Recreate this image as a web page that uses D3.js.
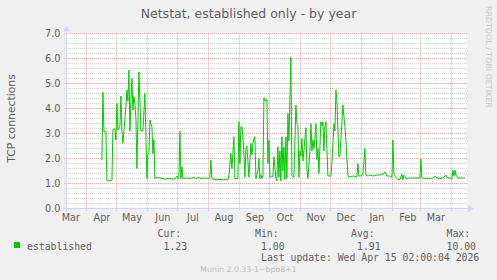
<!DOCTYPE html>
<html>
<head>
<meta charset="utf-8">
<script src="https://cdn.jsdelivr.net/npm/d3@7"></script>
<style>
  body { margin: 0; background: #F0F0F0; }
  svg { display: block; }
</style>
</head>
<body>
<svg id="chart" width="497" height="280"></svg>
<script>
var title = "Netstat, established only - by year";
var yTitle = "TCP connections";
var seriesName = "established";

var days = [
  "2025-04-16","2025-04-17","2025-04-18","2025-04-20","2025-04-21","2025-04-26","2025-04-27","2025-04-29","2025-04-30",
  "2025-05-01","2025-05-02","2025-05-04","2025-05-05","2025-05-06","2025-05-07","2025-05-10","2025-05-11","2025-05-12",
  "2025-05-13","2025-05-14","2025-05-15","2025-05-16","2025-05-17","2025-05-18","2025-05-19","2025-05-20","2025-05-21",
  "2025-05-23","2025-05-25","2025-05-27","2025-05-29","2025-05-31",
  "2025-06-01","2025-06-02","2025-06-03","2025-06-05","2025-06-06","2025-06-07","2025-06-08","2025-06-10","2025-06-14",
  "2025-06-18","2025-06-22","2025-06-26","2025-06-28","2025-06-29","2025-06-30",
  "2025-07-01","2025-07-02","2025-07-03","2025-07-04","2025-07-05","2025-07-06","2025-07-10","2025-07-14","2025-07-17",
  "2025-07-19","2025-07-22","2025-07-24","2025-07-28",
  "2025-08-01","2025-08-02","2025-08-03","2025-08-04","2025-08-08","2025-08-12","2025-08-16","2025-08-20","2025-08-21",
  "2025-08-22","2025-08-23","2025-08-24","2025-08-25","2025-08-26","2025-08-27","2025-08-30","2025-08-31",
  "2025-09-01","2025-09-02","2025-09-03","2025-09-04","2025-09-05","2025-09-06","2025-09-07","2025-09-08","2025-09-10",
  "2025-09-12","2025-09-13","2025-09-14","2025-09-15","2025-09-16","2025-09-17","2025-09-19","2025-09-20","2025-09-21",
  "2025-09-22","2025-09-23","2025-09-24","2025-09-25","2025-09-26","2025-09-27","2025-09-28","2025-09-29","2025-09-30",
  "2025-10-01","2025-10-04","2025-10-05","2025-10-07","2025-10-08","2025-10-09","2025-10-10","2025-10-11","2025-10-12",
  "2025-10-13","2025-10-14","2025-10-15","2025-10-16","2025-10-17","2025-10-18","2025-10-19","2025-10-20","2025-10-22",
  "2025-10-23","2025-10-25","2025-10-27","2025-10-28","2025-10-29","2025-10-30","2025-10-31",
  "2025-11-01","2025-11-02","2025-11-03","2025-11-04","2025-11-06","2025-11-07","2025-11-08","2025-11-10","2025-11-11",
  "2025-11-12","2025-11-13","2025-11-14","2025-11-15","2025-11-16","2025-11-17","2025-11-18","2025-11-19","2025-11-21",
  "2025-11-22","2025-11-23","2025-11-24","2025-11-25","2025-11-26","2025-11-27","2025-11-28",
  "2025-12-01","2025-12-02","2025-12-04","2025-12-05","2025-12-06","2025-12-07","2025-12-09","2025-12-10","2025-12-13",
  "2025-12-14","2025-12-15","2025-12-16","2025-12-18","2025-12-20","2025-12-23","2025-12-27","2025-12-28","2025-12-29",
  "2025-12-31",
  "2026-01-01","2026-01-02","2026-01-04","2026-01-05","2026-01-07","2026-01-09","2026-01-12","2026-01-16","2026-01-19",
  "2026-01-22","2026-01-24","2026-01-26","2026-01-29","2026-01-31",
  "2026-02-01","2026-02-02","2026-02-05","2026-02-06","2026-02-08","2026-02-10","2026-02-11","2026-02-12","2026-02-13",
  "2026-02-15","2026-02-18","2026-02-21","2026-02-25","2026-02-28",
  "2026-03-01","2026-03-02","2026-03-07","2026-03-10","2026-03-13","2026-03-15","2026-03-17","2026-03-20","2026-03-23",
  "2026-03-26","2026-03-27","2026-03-30",
  "2026-04-01","2026-04-02","2026-04-03","2026-04-04","2026-04-05","2026-04-07","2026-04-10","2026-04-14"
];

var established = [
  1.94,4.65,3.07,3.07,1.11,1.11,3.14,3.20,2.74,
  4.20,3.14,3.30,4.50,3.10,2.60,4.07,4.74,4.30,
  5.54,3.10,4.30,5.20,3.94,4.47,4.20,3.60,1.60,
  5.47,3.10,3.10,4.60,1.20,
  2.20,2.20,3.54,3.27,2.20,2.75,1.20,1.24,1.22,
  1.18,1.20,1.17,1.20,1.25,1.30,
  1.20,1.22,3.10,1.20,1.67,1.20,1.22,1.20,1.25,
  1.20,1.25,1.20,1.22,
  1.20,1.25,1.94,1.20,1.15,1.16,1.15,1.15,1.30,
  1.80,2.20,1.60,2.20,2.87,1.20,1.20,3.47,
  1.80,3.27,3.27,2.87,2.20,1.25,2.40,2.50,1.25,
  2.60,2.14,2.60,2.80,2.87,1.20,1.50,2.00,1.20,
  1.35,1.20,1.30,4.43,4.30,4.30,4.37,1.80,2.74,
  1.25,1.28,2.07,1.20,1.10,2.47,1.25,2.30,1.10,
  2.87,1.50,2.47,1.15,2.87,1.20,3.80,2.70,6.05,
  1.30,1.25,4.14,3.40,3.35,1.25,2.30,
  2.10,2.80,1.90,2.30,3.23,1.60,1.20,2.30,3.40,
  2.30,2.74,2.40,2.80,3.40,1.95,2.40,1.40,3.47,
  3.30,3.47,2.30,3.30,3.47,2.40,1.30,
  1.30,1.80,3.40,3.10,4.74,4.34,2.07,2.07,4.14,
  3.67,3.27,2.74,1.30,1.26,1.30,1.27,1.80,1.30,
  1.30,
  1.34,1.40,2.40,1.34,1.30,1.34,1.30,1.34,1.34,
  1.37,1.46,1.30,1.30,1.24,
  2.74,1.37,1.20,1.16,1.16,1.37,1.16,1.33,1.27,
  1.20,1.22,1.22,1.22,1.22,
  1.98,1.22,1.20,1.20,1.22,1.30,1.22,1.20,1.22,
  1.34,1.24,1.22,
  1.20,1.53,1.30,1.53,1.34,1.22,1.22,1.23
];

var yTicks = [0, 1, 2, 3, 4, 5, 6, 7];
var legendHeads = ["Cur:", "Min:", "Avg:", "Max:"];
var legendValues = ["1.23", "1.00", "1.91", "10.00"];
var lastUpdate = "Last update: Wed Apr 15 02:00:04 2026";
var watermark = "Munin 2.0.33-1~bpo8+1";
var sideMark = "RRDTOOL / TOBI OETIKER";

var endTime = new Date(Date.UTC(2026, 3, 15, 2, 0, 4));
var startTime = d3.utcDay.offset(endTime, -400);

var svg = d3.select("#chart");
var sans = "'DejaVu Sans', sans-serif";
var mono = "'DejaVu Sans Mono', monospace";
var fontColor = "#606060";

var x = d3.scaleUtc().domain([startTime, endTime]).range([66, 466]);
var y = d3.scaleLinear().domain([0, 7]).range([208.5, 33.5]);
var left = 66, right = 467;

var parse = d3.utcParse("%Y-%m-%d");
var points = days.map(function(d, i) { return { t: parse(d), v: established[i] }; });

svg.append("rect")
  .attr("width", 497).attr("height", 280)
  .attr("fill", "#F0F0F0");

svg.append("rect")
  .attr("x", left).attr("y", y(7) - 0.5)
  .attr("width", right - left).attr("height", y(0) - y(7) + 0.5)
  .attr("fill", "#FFFFFF");

// minor horizontal grid every 0.2
var minor = d3.range(0, 35).map(function(i) { return i / 5; })
  .filter(function(v) { return Math.abs(v - Math.round(v)) > 1e-6; });

svg.append("g")
  .selectAll("line")
  .data(minor)
  .enter().append("line")
  .attr("x1", left - 2).attr("x2", right)
  .attr("y1", function(d) { return Math.round(y(d) - 0.5) + 0.5; })
  .attr("y2", function(d) { return Math.round(y(d) - 0.5) + 0.5; })
  .attr("stroke", "#D0D0D0")
  .attr("stroke-dasharray", "1,1");

var months = d3.utcMonth.range(d3.utcMonth.ceil(startTime), endTime);

svg.append("g")
  .selectAll("line")
  .data(months)
  .enter().append("line")
  .attr("x1", function(d) { return Math.floor(x(d)) + 0.5; })
  .attr("x2", function(d) { return Math.floor(x(d)) + 0.5; })
  .attr("y1", y(7)).attr("y2", y(0) + 3)
  .attr("stroke", "#F0A0A0")
  .attr("stroke-dasharray", "1,1");

svg.append("g")
  .selectAll("line")
  .data(yTicks.slice(1))
  .enter().append("line")
  .attr("x1", left - 2).attr("x2", right)
  .attr("y1", function(d) { return y(d); })
  .attr("y2", function(d) { return y(d); })
  .attr("stroke", "#F0A0A0")
  .attr("stroke-dasharray", "1,1");

// axes
var axisColor = "#CFD6F8";
svg.append("line")
  .attr("x1", left - 3).attr("x2", right + 2)
  .attr("y1", y(0)).attr("y2", y(0))
  .attr("stroke", axisColor);
svg.append("line")
  .attr("x1", left + 0.5).attr("x2", left + 0.5)
  .attr("y1", y(0) + 3).attr("y2", y(7) - 2)
  .attr("stroke", axisColor);
svg.append("path")
  .attr("d", d3.line()([[right + 7, y(0)], [right + 1, y(0) - 3.5], [right + 1, y(0) + 3.5]]) + "Z")
  .attr("fill", axisColor);
svg.append("path")
  .attr("d", d3.line()([[left + 0.5, y(7) - 8], [left - 3, y(7) - 2], [left + 4, y(7) - 2]]) + "Z")
  .attr("fill", axisColor);

// y labels
svg.append("g")
  .selectAll("text")
  .data(yTicks)
  .enter().append("text")
  .attr("x", 60.5)
  .attr("y", function(d) { return y(d) + 3.5; })
  .attr("text-anchor", "end")
  .attr("font-family", sans).attr("font-size", "9.7px")
  .attr("fill", fontColor)
  .text(d3.format(".1f"));

// x labels, centred in each month
var labelMonths = d3.utcMonth.range(d3.utcMonth.floor(startTime), endTime)
  .filter(function(m) { var c = d3.utcDay.offset(m, 15); return c >= startTime && c <= endTime; });

svg.append("g")
  .selectAll("text")
  .data(labelMonths)
  .enter().append("text")
  .attr("x", function(d) { return x(d3.utcDay.offset(d, 15)); })
  .attr("y", 220.5)
  .attr("text-anchor", "middle")
  .attr("font-family", sans).attr("font-size", "9.7px")
  .attr("fill", fontColor)
  .text(d3.utcFormat("%b"));

// series
svg.append("path")
  .datum(points)
  .attr("d", d3.line()
    .x(function(d) { return x(d.t); })
    .y(function(d) { return y(d.v); }))
  .attr("fill", "none")
  .attr("stroke", "#00CC00")
  .attr("stroke-width", 1);

// titles
svg.append("text")
  .attr("x", 248.5).attr("y", 17.5)
  .attr("text-anchor", "middle")
  .attr("font-family", sans).attr("font-size", "12.5px")
  .attr("fill", fontColor)
  .text(title);

svg.append("text")
  .attr("transform", "translate(15,118.5) rotate(-90)")
  .attr("text-anchor", "middle")
  .attr("font-family", sans).attr("font-size", "10.8px")
  .attr("fill", fontColor)
  .text(yTitle);

svg.append("text")
  .attr("transform", "translate(485.5,6) rotate(90)")
  .attr("font-family", sans).attr("font-size", "7.9px")
  .attr("fill", "#C8C8C8")
  .text(sideMark);

// legend
svg.append("rect")
  .attr("x", 14).attr("y", 242)
  .attr("width", 6).attr("height", 6)
  .attr("fill", "#00CC00");

svg.append("text")
  .attr("x", 27).attr("y", 249.5)
  .attr("font-family", mono).attr("font-size", "9.8px")
  .attr("fill", fontColor)
  .text(seriesName);

var headX = [157.5, 255, 351, 446.5];
var valueX = [163.5, 261, 357, 446.5];

svg.append("g")
  .selectAll("text")
  .data(legendHeads)
  .enter().append("text")
  .attr("x", function(d, i) { return headX[i]; })
  .attr("y", 237)
  .attr("font-family", mono).attr("font-size", "9.8px")
  .attr("fill", fontColor)
  .text(function(d) { return d; });

svg.append("g")
  .selectAll("text")
  .data(legendValues)
  .enter().append("text")
  .attr("x", function(d, i) { return valueX[i]; })
  .attr("y", 249.5)
  .attr("font-family", mono).attr("font-size", "9.8px")
  .attr("fill", fontColor)
  .text(function(d) { return d; });

svg.append("text")
  .attr("x", 261).attr("y", 261)
  .attr("font-family", mono).attr("font-size", "9.8px")
  .attr("fill", fontColor)
  .text(lastUpdate);

svg.append("text")
  .attr("x", 248.5).attr("y", 271.5)
  .attr("text-anchor", "middle")
  .attr("font-family", sans).attr("font-size", "7.8px")
  .attr("fill", "#BDBDBD")
  .text(watermark);
</script>
</body>
</html>
